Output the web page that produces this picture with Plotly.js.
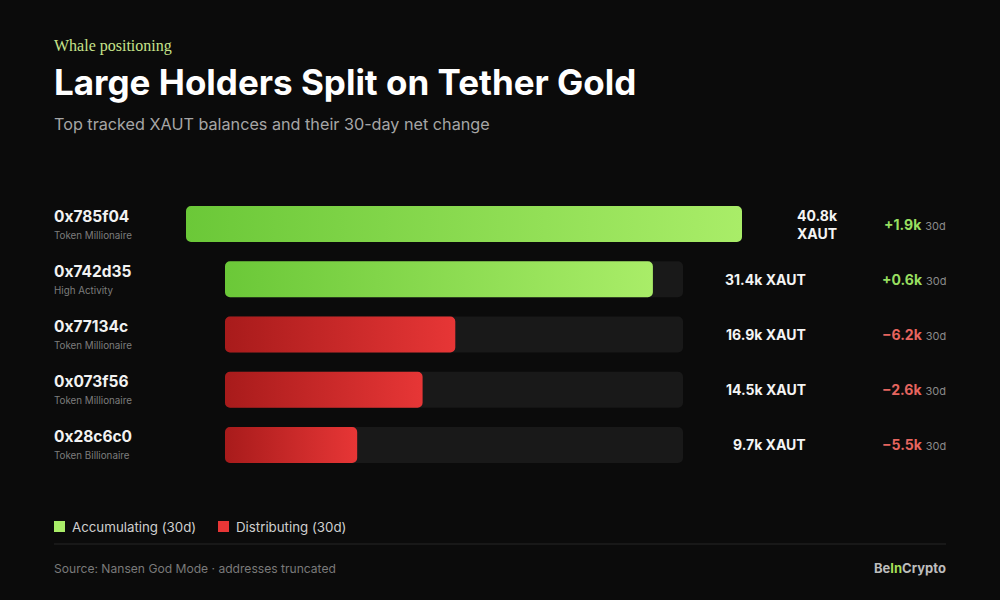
<!DOCTYPE html>
<html>
<head>
<meta charset="utf-8">
<script src="https://cdn.plot.ly/plotly-3.0.1.min.js"></script>
<style>
html,body{margin:0;padding:0;background:#0b0b0b;}
#chart{width:1000px;height:600px;}
</style>
</head>
<body>
<div id="chart"></div>
<script>
// ---- data ----
const addresses = ["0x785f04", "0x742d35", "0x77134c", "0x073f56", "0x28c6c0"];
const holderTags = ["Token Millionaire", "High Activity", "Token Millionaire", "Token Millionaire", "Token Billionaire"];
const balancesK = [40.8, 31.4, 16.9, 14.5, 9.7];          // XAUT, thousands
const change30dK = [1.9, 0.6, -6.2, -2.6, -5.5];           // XAUT, thousands
const legendLabels = ["Accumulating (30d)", "Distributing (30d)"];

// ---- styling ----
const FONT = "Inter, 'Noto Sans', sans-serif";
const BG = "#0b0b0b";
const GREEN_L = "#6bc838", GREEN_R = "#a9ed68";
const RED_L = "#a81b1b", RED_R = "#e73636";
const TRACK = "#191919";
const PX = 1 / 1000;   // one pixel in paper-x units
const PAD = 2 * PX;    // annotation inner padding compensation

const W1 = 0.742 - 0.186;   // first row column width (paper)
const W2 = 0.683 - 0.225;   // other rows track width (paper)
const maxBal = Math.max(...balancesK);
const range1 = maxBal;
const range2 = maxBal * W2 / W1;

const isUp = change30dK.map(c => c >= 0);
const barColors = isUp.map(u => u ? GREEN_R : RED_R);

const restIdx = [1, 2, 3, 4];
const BW = 0.652;

const traces = [
  { // track for rows 2..5
    type: "bar", orientation: "h", xaxis: "x2", yaxis: "y",
    y: restIdx.map(i => addresses[i]), x: restIdx.map(() => range2),
    width: BW, marker: { color: TRACK },
    hoverinfo: "skip", showlegend: false, meta: "track"
  },
  { // first (largest) holder
    type: "bar", orientation: "h", xaxis: "x", yaxis: "y",
    y: [addresses[0]], x: [balancesK[0]], width: BW,
    marker: { color: [barColors[0]] },
    showlegend: false, hoverinfo: "skip", meta: "first"
  },
  { // other holders
    type: "bar", orientation: "h", xaxis: "x2", yaxis: "y",
    y: restIdx.map(i => addresses[i]), x: restIdx.map(i => balancesK[i]), width: BW,
    marker: { color: restIdx.map(i => barColors[i]) },
    showlegend: false, hoverinfo: "skip", meta: "rest"
  }
];

const ann = [];
// header
ann.push({ text: "Whale positioning", xref: "paper", yref: "paper", x: 0.054 - PAD, y: 1 - 46/600,
  xanchor: "left", yanchor: "middle", showarrow: false,
  font: { family: "'Liberation Serif', serif", size: 16, color: "#c7e48b" } });
ann.push({ text: "Top tracked XAUT balances and their 30-day net change", xref: "paper", yref: "paper",
  x: 0.054 - PAD, y: 1 - 124/600, xanchor: "left", yanchor: "middle", showarrow: false,
  font: { family: FONT, size: 16.2, color: "#a6a6a6" } });

addresses.forEach((a, i) => {
  ann.push({ text: "<b>" + a + "</b>", xref: "paper", yref: "y", x: 0.054 - PAD, y: i, yshift: 8,
    xanchor: "left", yanchor: "middle", showarrow: false,
    font: { family: FONT, size: 15.5, color: "#f2f2f2" } });
  ann.push({ text: holderTags[i], xref: "paper", yref: "y", x: 0.054 - PAD, y: i, yshift: -11,
    xanchor: "left", yanchor: "middle", showarrow: false,
    font: { family: FONT, size: 9.8, color: "#7d7d7d" } });
  const valTxt = balancesK[i].toFixed(1) + "k" + (i === 0 ? "<br>" : " ") + "XAUT";
  ann.push({ text: "<b>" + valTxt + "</b>", xref: "paper", yref: "y",
    x: (i === 0 ? 0.838 : 0.806) + PAD, y: i, xanchor: "right", yanchor: "middle", align: "center",
    showarrow: false, font: { family: FONT, size: 14, color: "#f4f4f4" } });
  const c = change30dK[i];
  const cTxt = (c >= 0 ? "+" : "\u2212") + Math.abs(c).toFixed(1) + "k";
  ann.push({ text: "<b>" + cTxt + "</b> <span style='font-size:11px;color:#8a8a8a'>30d</span>",
    xref: "paper", yref: "y", x: 0.946 + PAD, y: i, xanchor: "right", yanchor: "middle",
    showarrow: false, font: { family: FONT, size: 14, color: c >= 0 ? "#98de60" : "#e6655f" } });
});

// legend
const legX = [0.072, 0.236];
const legCol = [GREEN_R, RED_R];
const shapes = [];
legendLabels.forEach((t, k) => {
  shapes.push({ type: "rect", xref: "paper", yref: "paper",
    x0: legX[k] - 0.018, x1: legX[k] - 0.007, y0: 1 - 532/600, y1: 1 - 521/600,
    fillcolor: legCol[k], line: { width: 0 } });
  ann.push({ text: t, xref: "paper", yref: "paper", x: legX[k] - PAD, y: 1 - 527/600,
    xanchor: "left", yanchor: "middle", showarrow: false,
    font: { family: FONT, size: 13.3, color: "#cfcfcf" } });
});
shapes.push({ type: "line", xref: "paper", yref: "paper", x0: 0.054, x1: 0.946,
  y0: 1 - 544/600, y1: 1 - 544/600, line: { color: "#262626", width: 1 } });

// footer
ann.push({ text: "Source: Nansen God Mode · addresses truncated", xref: "paper", yref: "paper",
  x: 0.054 - PAD, y: 1 - 568/600, xanchor: "left", yanchor: "middle", showarrow: false,
  font: { family: FONT, size: 12.1, color: "#7a7a7a" } });
ann.push({ text: "<b>Be<span style='color:#a7df58'>In</span>Crypto</b>", xref: "paper", yref: "paper",
  x: 0.946 + PAD, y: 1 - 568/600, xanchor: "right", yanchor: "middle", showarrow: false,
  font: { family: FONT, size: 13, color: "#bdbdbd" } });

const layout = {
  width: 1000, height: 600,
  paper_bgcolor: BG, plot_bgcolor: "rgba(0,0,0,0)",
  margin: { l: 0, r: 0, t: 0, b: 0 },
  barmode: "overlay",
  showlegend: false,
  title: { text: "<b>Large Holders Split on Tether Gold</b>", x: 0.054, xanchor: "left",
    y: 1 - 83/600, yanchor: "middle", xref: "paper", yref: "paper",
    font: { family: FONT, size: 35, color: "#ffffff" } },
  xaxis: { domain: [0.186, 0.742], range: [0, range1], visible: false, fixedrange: true },
  xaxis2: { domain: [0.225, 0.683], range: [0, range2], visible: false, anchor: "y", fixedrange: true },
  yaxis: { domain: [1 - 472.6/600, 1 - 196.4/600], type: "category",
    categoryorder: "array", categoryarray: addresses,
    range: [4.5, -0.5], visible: false, fixedrange: true },
  annotations: ann, shapes: shapes
};

Plotly.newPlot("chart", traces, layout, { displayModeBar: false, staticPlot: true }).then(gd => {
  const NS = "http://www.w3.org/2000/svg";
  const svg = gd.querySelector(".main-svg");
  let defs = svg.querySelector("defs");
  if (!defs) { defs = document.createElementNS(NS, "defs"); svg.prepend(defs); }
  function grad(id, c1, c2) {
    const g = document.createElementNS(NS, "linearGradient");
    g.setAttribute("id", id); g.setAttribute("x1", "0"); g.setAttribute("x2", "1");
    g.setAttribute("y1", "0"); g.setAttribute("y2", "0");
    [[0, c1], [1, c2]].forEach(([o, c]) => {
      const s = document.createElementNS(NS, "stop");
      s.setAttribute("offset", o); s.setAttribute("stop-color", c); g.appendChild(s);
    });
    defs.appendChild(g);
  }
  grad("gGreen", GREEN_L, GREEN_R);
  grad("gRed", RED_L, RED_R);
  const R = 5;
  gd.querySelectorAll(".barlayer .trace").forEach(tg => {
    const cd = tg.__data__;
    const tr = cd && cd[0] && cd[0].trace;
    if (!tr) return;
    const idxs = tr.meta === "first" ? [0] : restIdx;
    tg.querySelectorAll(".point path").forEach((p, j) => {
      // rounded rectangle on the Plotly-computed bar box
      const b = p.getBBox();
      const x0 = b.x, y0 = b.y, x1 = b.x + b.width, y1 = b.y + b.height;
      const r = Math.min(R, b.width / 2, b.height / 2);
      p.setAttribute("d",
        `M${x0 + r},${y0}H${x1 - r}A${r},${r} 0 0 1 ${x1},${y0 + r}V${y1 - r}A${r},${r} 0 0 1 ${x1 - r},${y1}` +
        `H${x0 + r}A${r},${r} 0 0 1 ${x0},${y1 - r}V${y0 + r}A${r},${r} 0 0 1 ${x0 + r},${y0}Z`);
      if (tr.meta !== "track") {
        p.style.fill = isUp[idxs[j]] ? "url(#gGreen)" : "url(#gRed)";
      }
    });
  });
});
</script>
</body>
</html>
